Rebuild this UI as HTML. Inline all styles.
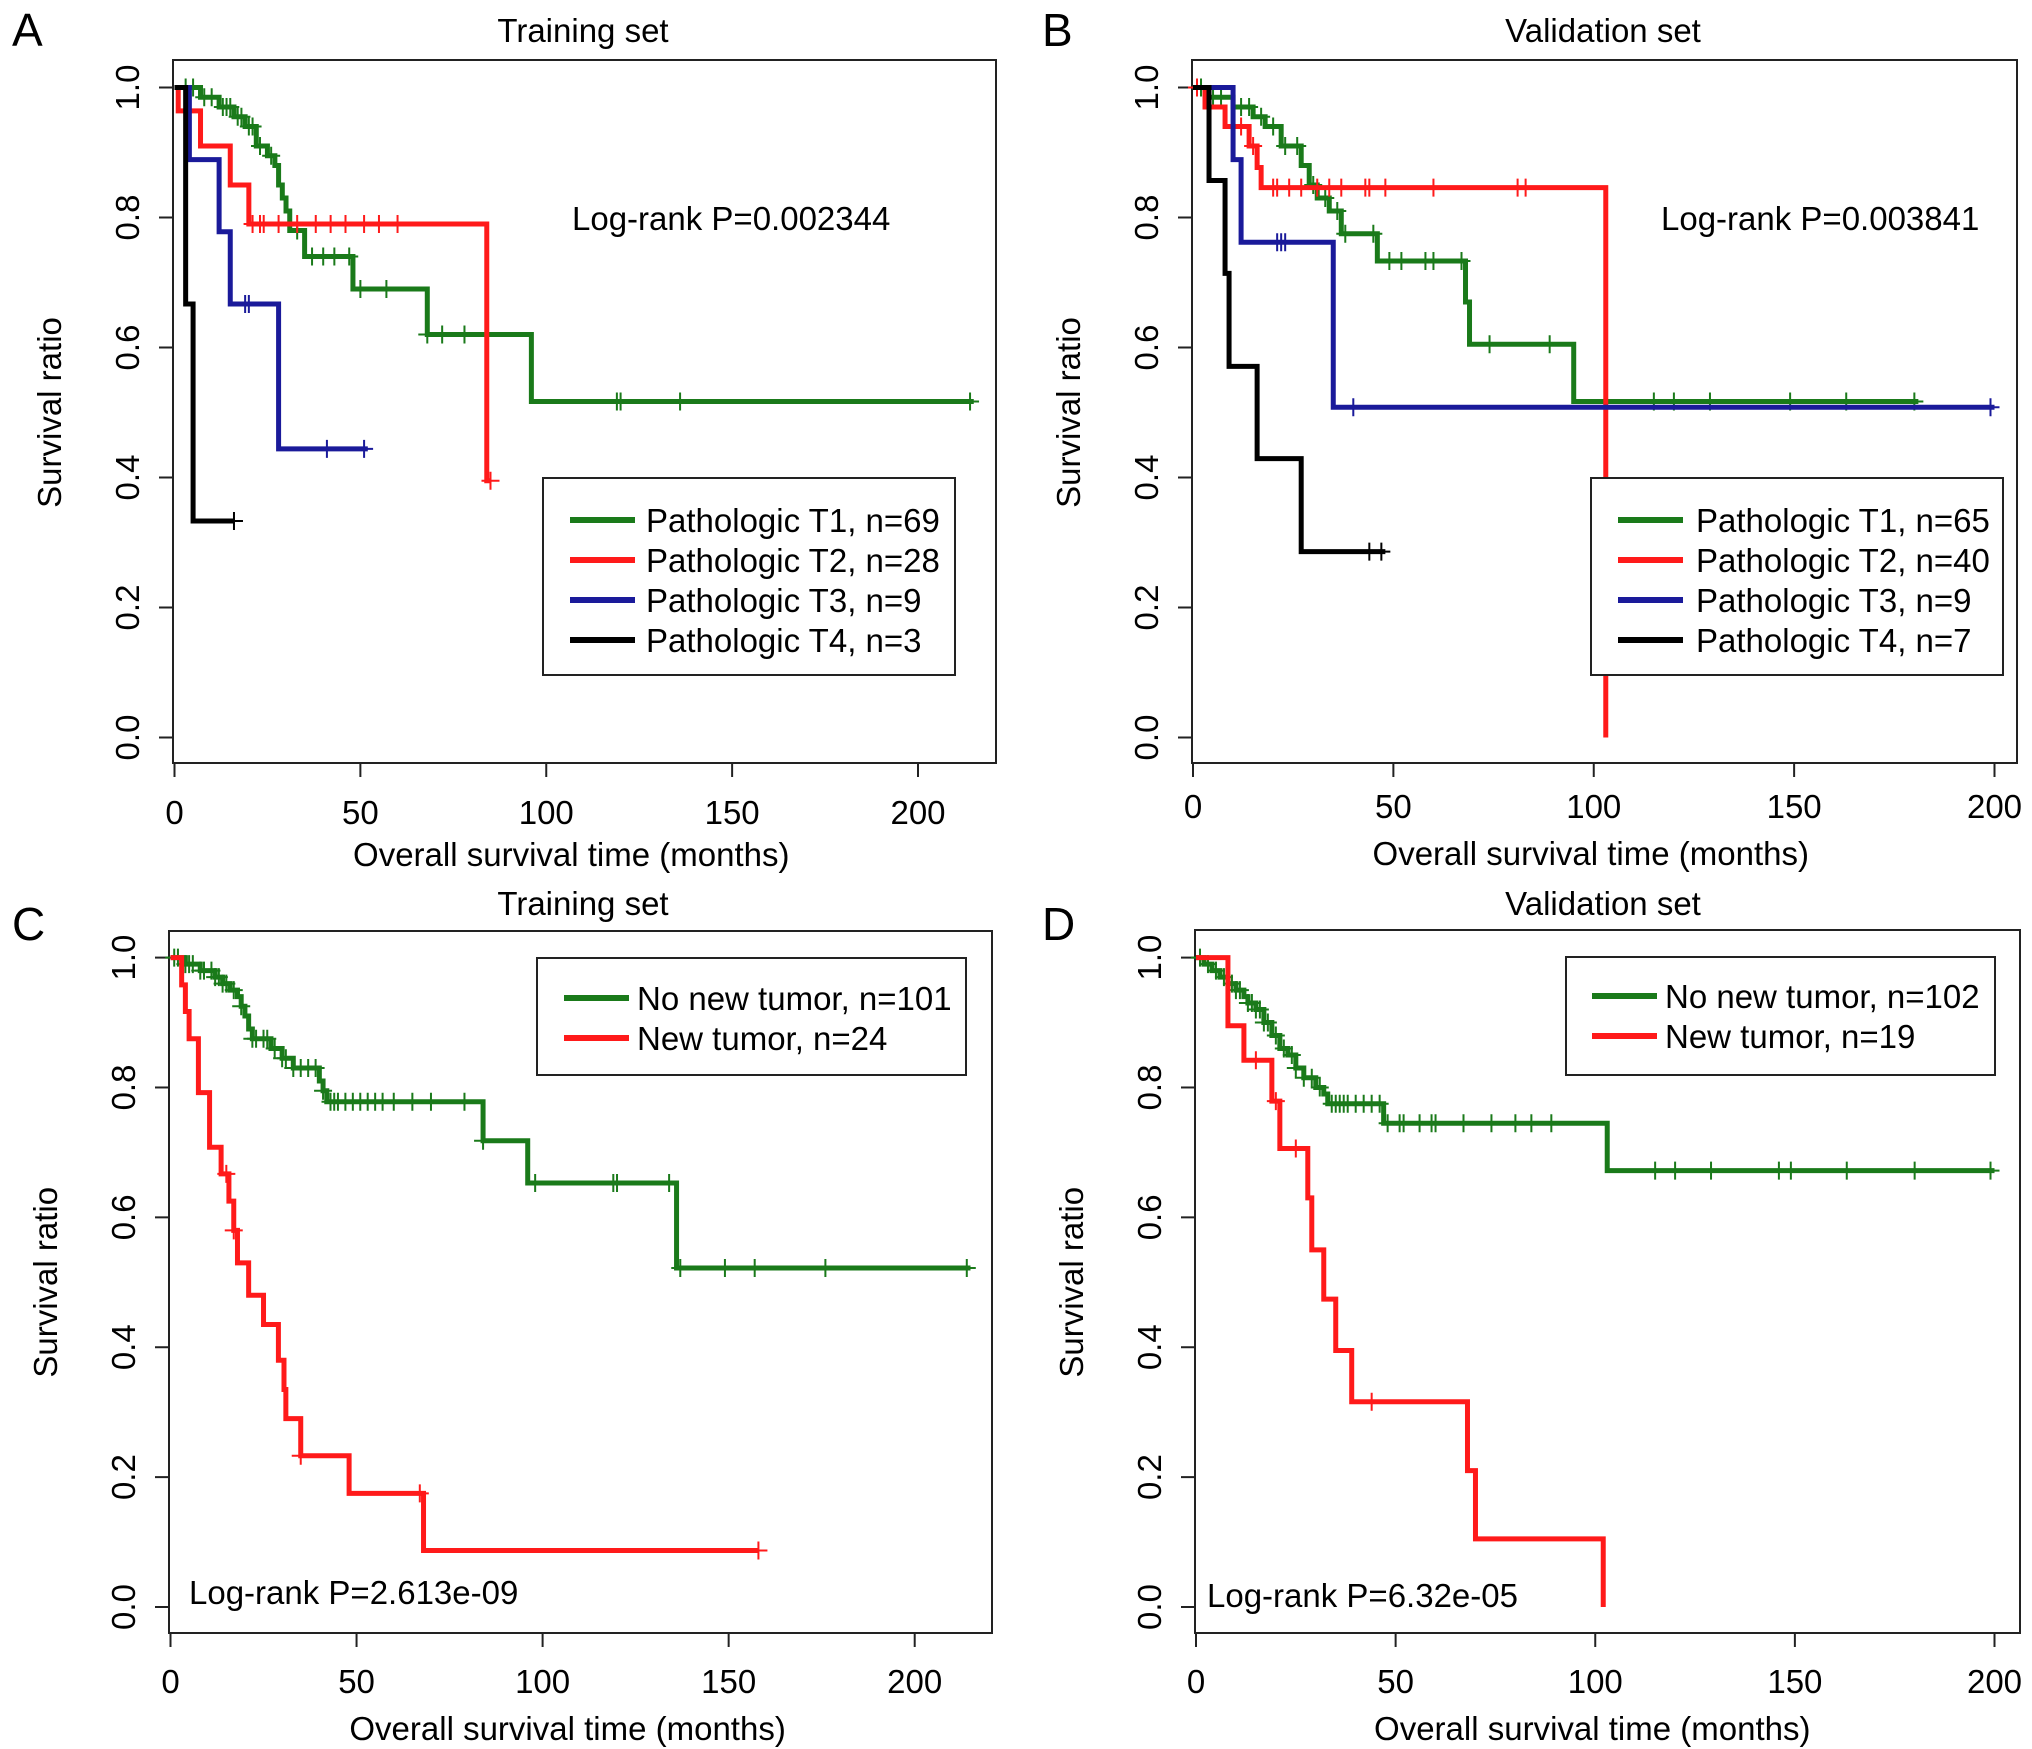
<!DOCTYPE html>
<html><head><meta charset="utf-8"><style>
html,body{margin:0;padding:0;background:#fff}
svg{display:block}
text{font-family:"Liberation Sans",Arial,sans-serif;fill:#000}
</style></head><body>
<svg id="fig" width="2032" height="1749" viewBox="0 0 2032 1749" xmlns="http://www.w3.org/2000/svg"></svg>
<script>
// ---- Panel A data (Training set, pathologic T) ----
const aT1Times=[7,12,16,19,22,25,27,28,29,30,31,35,48,68,96];
const aT1Surv=[.985,.97,.955,.94,.91,.895,.88,.85,.83,.81,.78,.74,.69,.62,.517];
const aT1End=215;
const aT1Cens=[3,5,8,10,13,14,15,17,18,20,21,23,26,33,37,40,43,47,50,57,68,72,78,119,120,136,214];
const aT2Times=[1,7,15,20,84];
const aT2Surv=[.964,.91,.85,.79,.395];
const aT2End=85;
const aT2Cens=[21,23,24,28,33,38,42,46,51,55,60,85];
const aT3Times=[4,12,15,28];
const aT3Surv=[.889,.778,.667,.444];
const aT3End=52;
const aT3Cens=[19,20,41,51];
const aT4Times=[3,5];
const aT4Surv=[.667,.333];
const aT4End=16;
const aT4Cens=[16];
// ---- Panel B data (Validation set, pathologic T) ----
const bT1Times=[3,10,15,18,22,27,29,31,34,37,46,68,69,95];
const bT1Surv=[.985,.97,.955,.94,.91,.88,.85,.83,.81,.775,.733,.67,.605,.517];
const bT1End=181;
const bT1Cens=[1,2,5,7,12,14,17,20,23,26,30,33,36,38,45,49,52,58,60,67,74,89,115,120,129,149,163,180];
const bT2Times=[3,8,14,16,17,103];
const bT2Surv=[.97,.94,.91,.877,.846,0];
const bT2End=103;
const bT2Cens=[1,12,15,20,21,24,27,31,34,37,43,44,48,60,81,83];
const bT3Times=[10,12,35];
const bT3Surv=[.889,.762,.508];
const bT3End=200;
const bT3Cens=[21,22,23,40,199];
const bT4Times=[4,8,9,16,27];
const bT4Surv=[.857,.714,.571,.429,.286];
const bT4End=48;
const bT4Cens=[44,47];
// ---- Panel C data (Training set, new tumor) ----
const cNoTimes=[4,8,12,14,16,18,19,20,21,22,27,30,33,40,41,42,84,96,136];
const cNoSurv=[.99,.98,.97,.96,.95,.94,.925,.91,.89,.875,.86,.845,.83,.81,.795,.778,.718,.653,.522];
const cNoEnd=215;
const cNoCens=[1,2,4,5,6,8,9,11,12,13,14,15,17,19,22,23,25,26,28,30,31,33,35,37,39,41,43,44,45,47,49,51,53,55,57,60,65,70,79,84,98,119,120,134,137,149,157,176,214];
const cNewTimes=[3,4,5,7.5,10.5,13.6,15.7,17,18,21,25,29,30.5,31,35,48,68];
const cNewSurv=[.958,.917,.875,.792,.708,.667,.625,.58,.53,.48,.435,.38,.335,.29,.233,.175,.087];
const cNewEnd=158;
const cNewCens=[15,17,35,67,158];
// ---- Panel D data (Validation set, new tumor) ----
const dNoTimes=[2,4,6,8,10,12,13,15,17,19,21,23,25,27,30,32,33,47,103];
const dNoSurv=[.99,.98,.97,.96,.95,.94,.93,.92,.9,.88,.86,.85,.83,.815,.8,.79,.775,.745,.672];
const dNoEnd=200;
const dNoCens=[1,3,5,7,9,10,11,13,14,15,16,17,18,20,22,24,25,27,29,31,34,35,36,37,38,40,42,44,46,48,51,52,56,59,60,67,74,80,84,89,115,120,129,146,149,163,180,199];
const dNewTimes=[8,12,19,21,28,29,32,35,39,68,70,102];
const dNewSurv=[.895,.842,.779,.706,.63,.55,.474,.395,.316,.21,.105,0];
const dNewEnd=102;
const dNewCens=[15,20,25,44];
// ---- tick labels ----
const xTicks=[0,50,100,150,200];
const yTicks=[0,0.2,0.4,0.6,0.8,1.0];
const yTickLabels=["0.0","0.2","0.4","0.6","0.8","1.0"];

const GREEN="#1a7a1a",RED="#ff1a1a",BLUE="#1a1a9a",BLACK="#000";
const NS="http://www.w3.org/2000/svg";
const svg=document.getElementById('fig');
const FS=33;
function el(tag,attrs,parent,txt){const e=document.createElementNS(NS,tag);for(const k in attrs)e.setAttribute(k,attrs[k]);if(txt!==undefined)e.textContent=txt;(parent||svg).appendChild(e);return e;}

function panel(p){
  const g=el('g',{});
  
  
  const X=v=>p.x0+(p.x200-p.x0)*v/200;
  const Y=v=>p.y0+(p.y1-p.y0)*v;
  const lt=el('text',{x:p.letterX,y:p.letterY,'font-size':46},g,p.id);
  
  
  const tt=el('text',{x:p.titleX,y:p.titleY,'font-size':FS,'text-anchor':'middle'},g,p.title);
  
  
  const bx=el('rect',{x:p.bl,y:p.bt,width:p.br-p.bl,height:p.bb-p.bt,fill:'none',stroke:'#222','stroke-width':2},g);
  
  
  xTicks.forEach(t=>{
    el('line',{x1:X(t),x2:X(t),y1:p.bb,y2:p.bb+14,stroke:'#222','stroke-width':2},g);
    const tl=el('text',{x:X(t),y:p.xtY,'font-size':FS,'text-anchor':'middle'},g,String(t));
    
    
  });
  el('line',{x1:X(0),x2:X(200),y1:p.bb,y2:p.bb,stroke:'#222','stroke-width':2},g);
  const xt=el('text',{x:(X(0)+X(200))/2+p.xlDx,y:p.xlY,'font-size':FS,'text-anchor':'middle'},g,'Overall survival time (months)');
  
  
  yTicks.forEach((t,i)=>{
    el('line',{x1:p.bl-14,x2:p.bl,y1:Y(t),y2:Y(t),stroke:'#222','stroke-width':2},g);
    const tl=el('text',{x:0,y:0,'font-size':FS,'text-anchor':'middle',transform:`translate(${p.bl-34},${Y(t)}) rotate(-90)`},g,yTickLabels[i]);
    
    
  });
  const yt=el('text',{x:0,y:0,'font-size':FS,'text-anchor':'middle',transform:`translate(${p.bl-112},${(Y(0)+Y(1))/2}) rotate(-90)`},g,'Survival ratio');
  
  
  p.series.forEach(s=>{
    let d=`M${X(0)},${Y(1)}`;
    const sv=(t)=>{let v=1;for(let i=0;i<s.times.length;i++){if(s.times[i]<=t)v=s.surv[i];}return v;};
    s.times.forEach((t,i)=>{d+=` H${X(t)} V${Y(s.surv[i])}`;});
    d+=` H${X(s.end)}`;
    const path=el('path',{d:d,fill:'none',stroke:s.color,'stroke-width':5,'stroke-linejoin':'miter'},g);
    
    
    s.cens.forEach(t=>{
      const m=el('path',{d:`M${X(t)},${Y(sv(t))-9}V${Y(sv(t))+9}M${X(t)-9},${Y(sv(t))}H${X(t)+9}`,stroke:s.color,'stroke-width':2},g);
      
      
    });
  });
  const L=p.legend;
  const lb=el('rect',{x:L.x,y:L.y,width:L.w,height:L.h,fill:'#fff',stroke:'#222','stroke-width':2},g);
  
  
  p.series.forEach((s,i)=>{
    const cy=L.first+i*L.step;
    const ll=el('line',{x1:L.lx1,x2:L.lx2,y1:cy,y2:cy,stroke:s.color,'stroke-width':6},g);
    
    
    const lt2=el('text',{x:L.tx,y:cy+12,'font-size':FS},g,s.label);
    
    
  });
  const pv=el('text',{x:p.pX,y:p.pY,'font-size':FS},g,p.pText);
  
  
}

panel({id:'A',title:'Training set',letterX:12,letterY:46,titleX:583,titleY:42,
  x0:174.5,x200:918,y0:737.5,y1:87.5,bl:173,br:996,bt:60,bb:763,xtY:824,xlY:866,xlDx:25,
  pX:572,pY:230,pText:'Log-rank P=0.002344',
  legend:{x:543,y:478,w:412,h:197,first:520,step:40,lx1:570,lx2:635,tx:646},
  series:[
   {name:'t1',label:'Pathologic T1, n=69',color:GREEN,times:aT1Times,surv:aT1Surv,end:aT1End,cens:aT1Cens},
   {name:'t2',label:'Pathologic T2, n=28',color:RED,times:aT2Times,surv:aT2Surv,end:aT2End,cens:aT2Cens},
   {name:'t3',label:'Pathologic T3, n=9',color:BLUE,times:aT3Times,surv:aT3Surv,end:aT3End,cens:aT3Cens},
   {name:'t4',label:'Pathologic T4, n=3',color:BLACK,times:aT4Times,surv:aT4Surv,end:aT4End,cens:aT4Cens}]});
panel({id:'B',title:'Validation set',letterX:1042,letterY:46,titleX:1603,titleY:42,
  x0:1193,x200:1994.5,y0:737.5,y1:87.5,bl:1192,br:2017,bt:60,bb:763,xtY:818,xlY:865,xlDx:-3,
  pX:1661,pY:230,pText:'Log-rank P=0.003841',
  legend:{x:1591,y:478,w:412,h:197,first:520,step:40,lx1:1618,lx2:1683,tx:1696},
  series:[
   {name:'t1',label:'Pathologic T1, n=65',color:GREEN,times:bT1Times,surv:bT1Surv,end:bT1End,cens:bT1Cens},
   {name:'t2',label:'Pathologic T2, n=40',color:RED,times:bT2Times,surv:bT2Surv,end:bT2End,cens:bT2Cens},
   {name:'t3',label:'Pathologic T3, n=9',color:BLUE,times:bT3Times,surv:bT3Surv,end:bT3End,cens:bT3Cens},
   {name:'t4',label:'Pathologic T4, n=7',color:BLACK,times:bT4Times,surv:bT4Surv,end:bT4End,cens:bT4Cens}]});
panel({id:'C',title:'Training set',letterX:12,letterY:940,titleX:583,titleY:915,
  x0:170.5,x200:914.7,y0:1607,y1:957.6,bl:169,br:992,bt:931,bb:1633,xtY:1693,xlY:1740,xlDx:25,
  pX:189,pY:1604,pText:'Log-rank P=2.613e-09',
  legend:{x:537,y:958,w:429,h:117,first:998,step:40,lx1:564,lx2:629,tx:637},
  series:[
   {name:'no-new-tumor',label:'No new tumor, n=101',color:GREEN,times:cNoTimes,surv:cNoSurv,end:cNoEnd,cens:cNoCens},
   {name:'new-tumor',label:'New tumor, n=24',color:RED,times:cNewTimes,surv:cNewSurv,end:cNewEnd,cens:cNewCens}]});
panel({id:'D',title:'Validation set',letterX:1042,letterY:940,titleX:1603,titleY:915,
  x0:1196,x200:1994.5,y0:1607,y1:957.6,bl:1195,br:2020,bt:930,bb:1633,xtY:1693,xlY:1740,xlDx:-3,
  pX:1207,pY:1607,pText:'Log-rank P=6.32e-05',
  legend:{x:1566,y:957,w:429,h:118,first:996,step:40,lx1:1592,lx2:1657,tx:1665},
  series:[
   {name:'no-new-tumor',label:'No new tumor, n=102',color:GREEN,times:dNoTimes,surv:dNoSurv,end:dNoEnd,cens:dNoCens},
   {name:'new-tumor',label:'New tumor, n=19',color:RED,times:dNewTimes,surv:dNewSurv,end:dNewEnd,cens:dNewCens}]});
</script>
</body></html>
